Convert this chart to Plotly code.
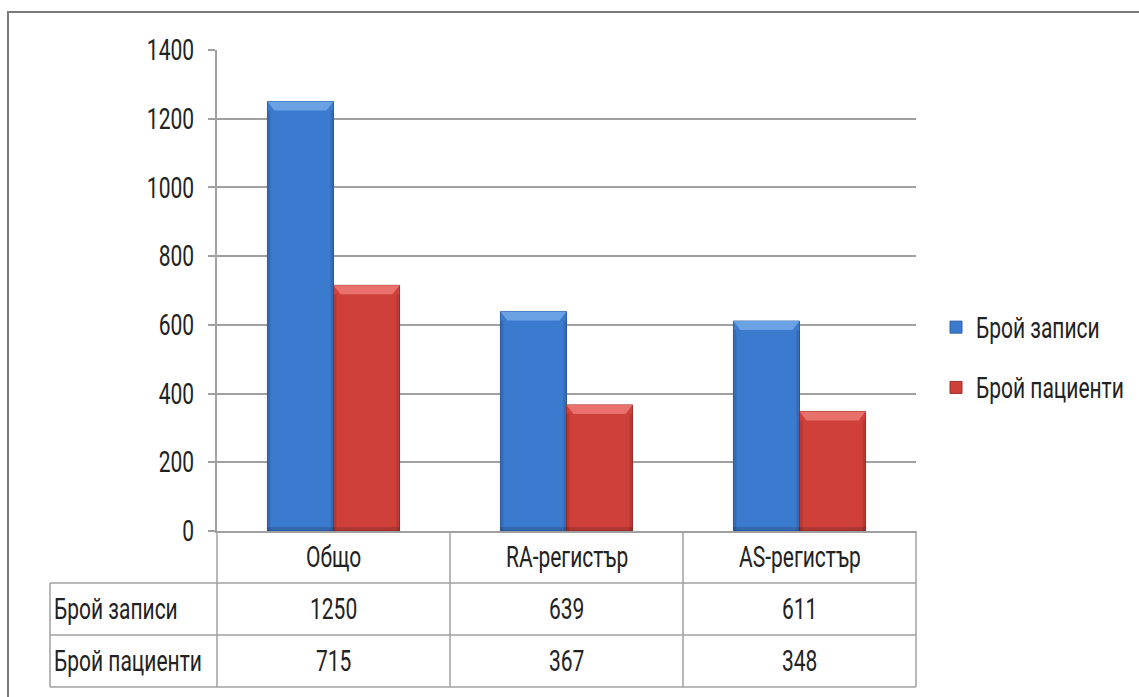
import plotly.graph_objects as go

# Data
categories = ["Общо", "RA-регистър", "AS-регистър"]
series_names = ["Брой записи", "Брой пациенти"]
records = [1250, 639, 611]
patients = [715, 367, 348]
y_ticks = [0, 200, 400, 600, 800, 1000, 1200, 1400]

colors = ["#3b7bcf", "#cf403b"]
edge_colors = ["#2c5fa8", "#a2302c"]
bevel_colors = ["#6aa2e4", "#e8716c"]

FONT = "Roboto, sans-serif"
FSIZE = 21
TEXT_COLOR = "#222222"
GRID = "#a0a0a0"

W, H = 1139, 697
L, R, T, B = 217, 223, 50, 166
plot_w = W - L - R
plot_h = H - T - B
Y_MAX = 1400
BARGAP = 0.433

fig = go.Figure()
for name, vals, c, ec in zip(series_names, [records, patients], colors, edge_colors):
    fig.add_trace(go.Bar(
        x=categories, y=vals, name=name, legendgroup=name,
        marker=dict(color=c, line=dict(color=ec, width=1)),
    ))

n = len(categories)
shapes = []

# Bevelled look of the bars: a light top facet and darker side edges
x_per_px = n / plot_w
y_per_px = Y_MAX / plot_h
group_w = 1 - BARGAP
bar_w = group_w / len(series_names)
inset = 7 * x_per_px
facet = 9 * y_per_px
edge = 3 * x_per_px
for s, vals in enumerate([records, patients]):
    for i, v in enumerate(vals):
        x0 = i - group_w / 2 + s * bar_w
        x1 = x0 + bar_w
        shapes.append(dict(type="path", xref="x", yref="y", layer="above",
                           path=f"M{x0},{v} L{x1},{v} L{x1 - inset},{v - facet} L{x0 + inset},{v - facet} Z",
                           fillcolor=bevel_colors[s], line=dict(width=0)))
        for ex0, ex1 in ((x0, x0 + edge), (x1 - edge, x1)):
            shapes.append(dict(type="rect", xref="x", yref="y", layer="above",
                               x0=ex0, x1=ex1, y0=0, y1=v - facet,
                               fillcolor="rgba(0,0,0,0.12)", line=dict(width=0)))
        shapes.append(dict(type="rect", xref="x", yref="y", layer="above",
                           x0=x0, x1=x1, y0=0, y1=4 * y_per_px,
                           fillcolor="rgba(0,0,0,0.15)", line=dict(width=0)))

# Data table below the plot area
row_h = 52 / plot_h
left_edge = -(L - 50) / plot_w
line_style = dict(color=GRID, width=1.5)
for k in range(1, 4):
    shapes.append(dict(type="line", xref="paper", yref="paper",
                       x0=left_edge, x1=1, y0=-k * row_h, y1=-k * row_h, line=line_style))
for i in range(1, n + 1):
    xp = i / n
    shapes.append(dict(type="line", xref="paper", yref="paper",
                       x0=xp, x1=xp, y0=0, y1=-3 * row_h, line=line_style))
# axis line continues down through the table
shapes.append(dict(type="line", xref="paper", yref="paper",
                   x0=0, x1=0, y0=0, y1=-3 * row_h, line=line_style))
# left edge of the row labels
shapes.append(dict(type="line", xref="paper", yref="paper",
                   x0=left_edge, x1=left_edge, y0=-row_h, y1=-3 * row_h, line=line_style))
# outer chart frame
shapes.append(dict(type="rect", xref="paper", yref="paper",
                   x0=-(L - 8) / plot_w, x1=(W - L + 20) / plot_w,
                   y0=-(H - T - plot_h + 20) / plot_h, y1=1 + (T - 12) / plot_h,
                   line=dict(color="#7a7a7a", width=2), layer="below"))

annotations = []
font = dict(family=FONT, size=FSIZE, color=TEXT_COLOR)
for cat in categories:
    annotations.append(dict(x=cat, xref="x", y=-0.5 * row_h, yref="paper",
                            text=cat, showarrow=False, font=font,
                            xanchor="center", yanchor="middle"))
for r, (name, vals) in enumerate(zip(series_names, [records, patients]), start=1):
    annotations.append(dict(x=left_edge, xref="paper", y=-(r + 0.5) * row_h, yref="paper",
                            text=name, showarrow=False, font=font,
                            xanchor="left", yanchor="middle", xshift=2))
    for cat, v in zip(categories, vals):
        annotations.append(dict(x=cat, xref="x", y=-(r + 0.5) * row_h, yref="paper",
                                text=str(v), showarrow=False, font=font,
                                xanchor="center", yanchor="middle"))

fig.update_layout(
    width=W, height=H,
    margin=dict(l=L, r=R, t=T, b=B, autoexpand=False),
    paper_bgcolor="white", plot_bgcolor="white",
    barmode="group", bargap=BARGAP, bargroupgap=0,
    font=dict(family=FONT, size=FSIZE, color=TEXT_COLOR),
    showlegend=True,
    legend=dict(x=(936 - L) / plot_w, xanchor="left", y=(531 - 307) / plot_h, yanchor="top",
                traceorder="grouped", tracegroupgap=30,
                font=dict(family=FONT, size=FSIZE, color=TEXT_COLOR),
                itemwidth=30, bgcolor="rgba(0,0,0,0)"),
    xaxis=dict(showticklabels=False, showgrid=False, zeroline=False,
               showline=True, linecolor=GRID, linewidth=1.5, ticks="",
               range=[-0.5, n - 0.5]),
    yaxis=dict(range=[0, Y_MAX], tickvals=y_ticks, showgrid=True, gridcolor=GRID, gridwidth=1.5,
               zeroline=False, showline=True, linecolor=GRID, linewidth=1.5,
               ticks="outside", ticklen=7, tickcolor=GRID, tickwidth=1.5,
               ticklabelstandoff=10),
    shapes=shapes, annotations=annotations,
)

# Give the labels the tall, narrow look of the original typeface:
# stretch every text vertically about its own centre.
stretch_js = """
var gd = document.getElementById('{plot_id}');
gd.querySelectorAll('text').forEach(function (t) {
  if (t.getAttribute('data-stretched') || !t.textContent) return;
  var b = t.getBBox();
  if (!b.width) return;
  var cx = b.x + b.width / 2, cy = b.y + b.height / 2;
  var tr = t.getAttribute('transform') || '';
  t.setAttribute('transform', tr + ' translate(' + cx + ',' + cy + ') scale(1,1.4) translate(' + (-cx) + ',' + (-cy) + ')');
  t.setAttribute('data-stretched', '1');
});
"""

fig.write_html("out.html", post_script=stretch_js)
